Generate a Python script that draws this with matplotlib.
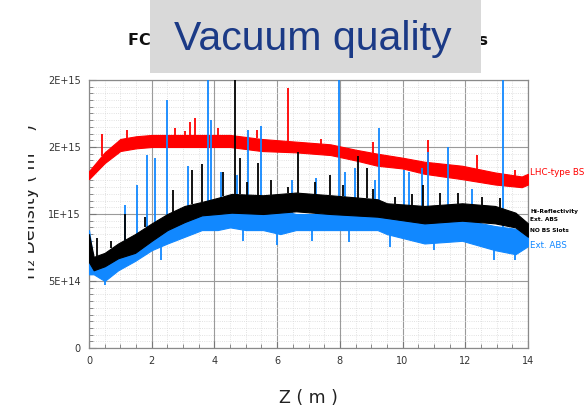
import matplotlib
matplotlib.use("Agg")
import matplotlib.pyplot as plt
from matplotlib.patches import Rectangle
from matplotlib.ticker import MultipleLocator, FuncFormatter

# ---------------- data (densities in units of 1e15 m^-3) ----------------
UNIT = 1e15

# Red: LHC-type BS (noise band lower / upper envelope)
red_z  = [0.0, 0.25, 0.5, 1.0, 1.5, 2.0, 3.0, 4.0, 4.5, 5.5, 6.6, 7.7, 8.5, 9.2, 10.0, 10.7, 11.9, 12.95, 13.8, 14.0]
red_lo = [1.26, 1.32, 1.38, 1.47, 1.49, 1.50, 1.50, 1.50, 1.50, 1.47, 1.46, 1.44, 1.40, 1.36, 1.34, 1.30, 1.26, 1.22, 1.20, 1.22]
red_hi = [1.32, 1.39, 1.46, 1.56, 1.58, 1.59, 1.59, 1.59, 1.59, 1.56, 1.54, 1.52, 1.48, 1.45, 1.42, 1.39, 1.36, 1.31, 1.28, 1.30]
red_spike_z = [0.40, 1.20, 2.73, 3.05, 3.21, 3.37, 4.10, 5.35, 6.34, 7.40, 9.06, 10.81, 12.38, 13.60]
red_spike_v = [1.60, 1.63, 1.64, 1.62, 1.69, 1.72, 1.64, 1.63, 1.94, 1.56, 1.54, 1.55, 1.44, 1.33]

# Black: Hi-Reflectivity, Ext. ABS, NO BS Slots
blk_z  = [0.0, 0.15, 0.5, 0.93, 1.47, 2.0, 2.5, 3.05, 3.6, 4.1, 4.55, 5.55, 6.6, 7.7, 9.2, 9.5, 10.7, 11.9, 12.95, 13.6, 14.0]
blk_lo = [0.64, 0.58, 0.61, 0.67, 0.71, 0.80, 0.88, 0.94, 0.99, 1.00, 1.01, 1.00, 1.02, 1.00, 0.98, 0.97, 0.93, 0.95, 0.93, 0.90, 0.83]
blk_hi = [0.85, 0.68, 0.71, 0.78, 0.85, 0.93, 1.00, 1.06, 1.09, 1.12, 1.15, 1.14, 1.16, 1.14, 1.11, 1.08, 1.06, 1.08, 1.06, 1.01, 0.93]
blk_spike_z = [0.27, 0.70, 1.14, 1.80, 2.67, 3.27, 3.60, 4.27, 4.65, 4.81, 5.03, 5.38, 5.80, 6.34, 6.66, 7.20,
               7.68, 8.10, 8.58, 8.87, 9.06, 9.76, 10.30, 10.66, 11.20, 11.77, 12.54, 13.10]
blk_spike_v = [0.82, 0.80, 1.00, 0.98, 1.18, 1.33, 1.37, 1.31, 2.10, 1.42, 1.24, 1.38, 1.25, 1.20, 1.46, 1.24,
               1.29, 1.22, 1.43, 1.34, 1.19, 1.13, 1.15, 1.22, 1.16, 1.16, 1.13, 1.12]

# Blue: Ext. ABS
blu_z  = [0.0, 0.15, 0.5, 0.93, 1.47, 2.0, 2.5, 3.05, 3.6, 4.1, 4.5, 5.0, 5.55, 6.1, 6.6, 7.7, 9.2, 9.5, 10.7, 11.9, 12.95, 13.6, 14.0]
blu_lo = [0.55, 0.55, 0.50, 0.58, 0.65, 0.73, 0.78, 0.83, 0.88, 0.88, 0.90, 0.88, 0.88, 0.85, 0.88, 0.88, 0.88, 0.85, 0.78, 0.80, 0.73, 0.70, 0.76]
blu_hi = [0.88, 0.64, 0.62, 0.71, 0.78, 0.86, 0.93, 0.98, 1.00, 1.03, 1.05, 1.03, 1.03, 1.03, 1.00, 1.00, 1.00, 0.98, 0.96, 0.96, 0.91, 0.89, 0.86]
blu_spike_z = [1.14, 1.52, 1.84, 2.12, 2.50, 3.15, 3.79, 3.90, 4.20, 4.72, 5.06, 5.50, 6.46, 7.23, 7.97, 8.16,
               8.48, 9.12, 9.25, 10.05, 10.20, 10.62, 10.80, 11.45, 12.22, 13.21]
blu_spike_v = [1.07, 1.22, 1.44, 1.42, 1.85, 1.36, 2.10, 1.70, 1.31, 1.29, 1.63, 1.66, 1.25, 1.27, 2.10, 1.31,
               1.34, 1.25, 1.64, 1.33, 1.31, 1.34, 1.46, 1.50, 1.19, 2.10]
blu_dip_z = [0.50, 2.30, 4.90, 6.00, 7.10, 8.30, 9.60, 11.00, 12.90, 13.60]
blu_dip_v = [0.47, 0.66, 0.80, 0.77, 0.80, 0.79, 0.75, 0.73, 0.66, 0.66]

y_ticks = [0.0, 0.5, 1.0, 1.5, 2.0]
x_ticks = [0, 2, 4, 6, 8, 10, 12, 14]

RED, BLK, BLU = "#ff0000", "#000000", "#1188ff"

# ---------------- figure ----------------
W, H = 588, 412
fig = plt.figure(figsize=(W / 100, H / 100), dpi=100)
ax = fig.add_axes([89 / W, (H - 348) / H, 439 / W, 268 / H])

def sc(vals):
    return [v * UNIT for v in vals]

def interp(zs, xs, vs):
    out = []
    for z in zs:
        for i in range(len(xs) - 1):
            if xs[i] <= z <= xs[i + 1]:
                t = (z - xs[i]) / (xs[i + 1] - xs[i])
                out.append(vs[i] + t * (vs[i + 1] - vs[i]))
                break
    return out

def series(z, lo, hi, sz, sv, color, zo):
    ax.fill_between(z, sc(lo), sc(hi), color=color, lw=0.8, zorder=zo)
    base = interp(sz, z, hi)
    ax.vlines(sz, sc(base), sc(sv), color=color, lw=1.3, zorder=zo)

series(red_z, red_lo, red_hi, red_spike_z, red_spike_v, RED, 3)
series(blu_z, blu_lo, blu_hi, blu_spike_z, blu_spike_v, BLU, 4)
dip_base = interp(blu_dip_z, blu_z, blu_lo)
ax.vlines(blu_dip_z, sc(dip_base), sc(blu_dip_v), color=BLU, lw=1.3, zorder=4)
series(blk_z, blk_lo, blk_hi, blk_spike_z, blk_spike_v, BLK, 5)

ax.set_xlim(0, 14)
ax.set_ylim(0, 2 * UNIT)
ax.set_xticks(x_ticks)
ax.set_yticks(sc(y_ticks))
ax.xaxis.set_minor_locator(MultipleLocator(0.5))
ax.yaxis.set_minor_locator(MultipleLocator(0.05 * UNIT))
ax.yaxis.set_major_formatter(FuncFormatter(lambda v, p: "0" if v == 0 else "%.0E" % v))
ax.grid(True, which="major", color="#9a9a9a", lw=0.8, ls="-", zorder=0)
ax.grid(True, which="minor", color="#d8d8d8", lw=0.6, ls=":", zorder=0)
ax.set_axisbelow(True)
ax.tick_params(which="major", direction="in", length=5, width=0.8, color="#777777",
               labelsize=7, labelcolor="#333333", pad=6)
ax.tick_params(which="minor", direction="in", length=3, width=0.6, color="#777777")
for s in ax.spines.values():
    s.set_color("#8a8a8a")
    s.set_linewidth(0.9)

ax.set_xlabel("Z ( m )", fontsize=12.5, color="#222222", labelpad=16)

# right-hand series labels
kw = dict(transform=ax.transAxes, clip_on=False, ha="left", va="center")
ax.text(1.005, 0.653, "LHC-type BS", color=RED, fontsize=6.3, **kw)
ax.text(1.005, 0.511, "Hi-Reflectivity", color=BLK, fontsize=4.2, fontweight="bold", **kw)
ax.text(1.005, 0.478, "Ext. ABS", color=BLK, fontsize=4.2, fontweight="bold", **kw)
ax.text(1.005, 0.440, "NO BS Slots", color=BLK, fontsize=4.2, fontweight="bold", **kw)
ax.text(1.005, 0.384, "Ext. ABS", color=BLU, fontsize=6.3, **kw)

# y label (partially masked on the left, as in the slide)
fig.text(30.5 / W, (H - 202) / H, "H\u2082 Density ( m\u207b\u00b3 )", rotation=90,
         ha="center", va="center", fontsize=12.5, color="#222222")
fig.patches.append(Rectangle((0, 0), 27.5 / W, 1, transform=fig.transFigure,
                             facecolor="white", edgecolor="none", zorder=10))

# original chart title (mostly hidden behind the slide box): spans x = 128 .. 487 px
title = fig.text(128 / W, (H - 45) / H, "FCC-hh arc: H2 density, various screens",
                 fontsize=12.8, fontweight="bold", color="#111111", ha="left", va="baseline")
renderer = fig.canvas.get_renderer()
tw = title.get_window_extent(renderer).width
title.set_fontsize(12.8 * 359.0 / tw)

# slide title box
fig.patches.append(Rectangle((150 / W, (H - 73) / H), 331 / W, 73 / H, transform=fig.transFigure,
                             facecolor="#d9d9d9", edgecolor="none", zorder=10))
fig.text(313 / W, (H - 50) / H, "Vacuum quality", fontsize=29.5, family="Liberation Sans",
         color="#1b3a86", ha="center", va="baseline", zorder=11)

fig.savefig("out.png", dpi=100)
